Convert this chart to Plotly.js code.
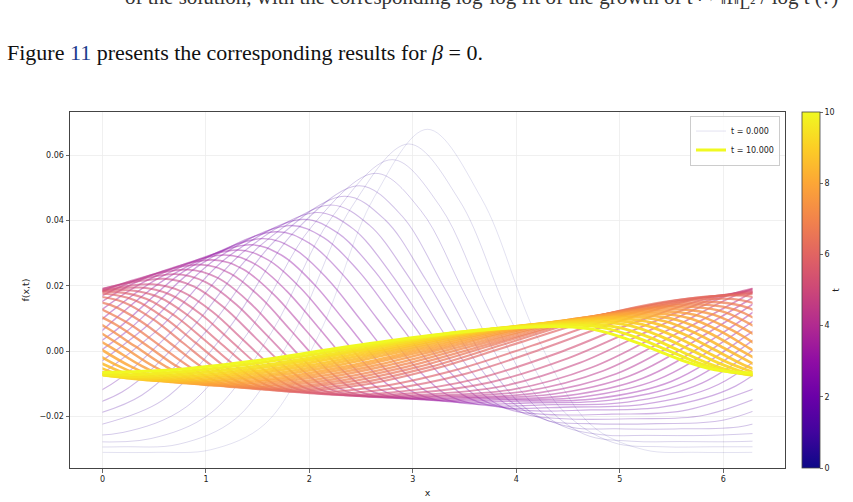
<!DOCTYPE html>
<html><head><meta charset="utf-8">
<script src="https://cdn.plot.ly/plotly-3.0.1.min.js"></script>
<style>
html,body{margin:0;padding:0;background:#fff;width:853px;height:502px;overflow:hidden;}
#chart{position:absolute;left:0;top:0;width:853px;height:502px;}
.txt{position:absolute;font-family:"Liberation Serif","DejaVu Serif",serif;color:#111;white-space:nowrap;}
#cut{left:125px;top:-15px;font-size:21px;color:#333;}
#cap{left:7px;top:40px;font-size:22px;}
</style></head>
<body>
<div id="chart"></div>
<div class="txt" id="cut">of the solution, with the corresponding log-log fit of the growth of t ↦ ‖f‖<sub>L²</sub> / log t (?)</div>
<div class="txt" id="cap">Figure <span style="color:#1d3c8c">11</span> presents the corresponding results for <i>β</i> = 0.</div>
<script>
// ---- data ----
const times = [0,0.25,0.5,0.75,1,1.25,1.5,1.75,2,2.25,2.5,2.75,3,3.25,3.5,3.75,4,4.25,4.5,4.75,5,5.25,5.5,5.75,6,6.25,6.5,6.75,7,7.25,7.5,7.75,8,8.25,8.5,8.75,9,9.25,9.5,9.75,10];
const xs = [
[0,0.524,1.047,1.571,2.094,2.618,3.142,3.665,4.189,4.712,5.236,5.760,6.283],
[-0.373,0.183,0.738,1.294,1.849,2.405,2.960,3.452,3.943,4.435,4.927,5.418,5.910,6.466],
[-0.119,0.465,1.049,1.633,2.216,2.800,3.263,3.727,4.190,4.653,5.117,5.580,6.164,6.748],
[-0.412,0.198,0.809,1.419,2.030,2.640,3.077,3.513,3.950,4.387,4.823,5.260,5.871,6.481],
[-0.055,0.579,1.213,1.847,2.480,2.893,3.307,3.720,4.133,4.547,4.960,5.594,6.228,6.862],
[-0.275,0.379,1.033,1.686,2.340,2.733,3.127,3.520,3.913,4.307,4.700,5.354,6.008,6.662],
[-0.482,0.189,0.859,1.530,2.200,2.577,2.953,3.330,3.707,4.083,4.460,5.131,5.801,6.472],
[-0.677,0.009,0.694,1.380,2.065,2.427,2.788,3.150,3.512,3.873,4.235,4.921,5.606,6.292],
[-0.164,0.535,1.233,1.932,2.280,2.629,2.977,3.325,3.674,4.022,4.721,5.420,6.119,6.818],
[-0.330,0.380,1.091,1.801,2.138,2.474,2.811,3.148,3.484,3.821,4.532,5.242,5.953,6.663],
[-0.489,0.231,0.952,1.672,1.999,2.325,2.652,2.979,3.305,3.632,4.353,5.073,5.794,6.514],
[-0.641,0.088,0.816,1.545,1.863,2.182,2.500,2.818,3.137,3.455,4.184,4.913,5.642,6.371],
[-0.051,0.685,1.420,1.732,2.043,2.355,2.667,2.978,3.290,4.026,4.761,5.497,6.232,6.968],
[-0.184,0.557,1.297,1.604,1.910,2.217,2.524,2.830,3.137,3.878,4.618,5.359,6.099,6.840],
[-0.315,0.431,1.176,1.478,1.779,2.081,2.383,2.684,2.986,3.732,4.477,5.223,5.968,6.714],
[-0.440,0.308,1.057,1.355,1.654,1.952,2.250,2.549,2.847,3.596,4.345,5.094,5.843,6.591],
[-0.564,0.188,0.940,1.235,1.530,1.825,2.120,2.415,2.710,3.462,4.214,4.967,5.719,6.471],
[-0.686,0.070,0.825,1.117,1.408,1.700,1.992,2.283,2.575,3.331,4.086,4.842,5.597,6.353],
[-0.045,0.710,1.002,1.293,1.585,1.877,2.168,2.460,3.216,3.971,4.727,5.482,6.238,6.993],
[-0.160,0.595,0.887,1.178,1.470,1.762,2.053,2.345,3.101,3.856,4.612,5.367,6.123,6.878],
[-0.275,0.480,0.772,1.063,1.355,1.647,1.938,2.230,2.986,3.741,4.497,5.252,6.008,6.763],
[-0.390,0.365,0.657,0.948,1.240,1.532,1.823,2.115,2.871,3.626,4.382,5.137,5.893,6.648],
[-0.505,0.250,0.542,0.833,1.125,1.417,1.708,2.000,2.756,3.511,4.267,5.022,5.778,6.533],
[-0.620,0.135,0.427,0.718,1.010,1.302,1.593,1.885,2.641,3.396,4.152,4.907,5.663,6.418],
[-0.735,0.020,0.312,0.603,0.895,1.187,1.478,1.770,2.526,3.281,4.037,4.792,5.548,6.303],
[-0.095,0.197,0.488,0.780,1.072,1.363,1.655,2.411,3.166,3.922,4.677,5.433,6.188,6.480],
[-0.210,0.082,0.373,0.665,0.957,1.248,1.540,2.296,3.051,3.807,4.562,5.318,6.073,6.365],
[-0.033,0.258,0.550,0.842,1.133,1.425,2.181,2.936,3.692,4.447,5.203,5.958,6.250,6.541],
[-0.148,0.143,0.435,0.727,1.018,1.310,2.066,2.821,3.577,4.332,5.088,5.843,6.135,6.426],
[-0.263,0.028,0.320,0.612,0.903,1.195,1.951,2.706,3.462,4.217,4.973,5.728,6.020,6.311],
[-0.087,0.205,0.497,0.788,1.080,1.836,2.591,3.347,4.102,4.858,5.613,5.905,6.196,6.488],
[-0.202,0.090,0.382,0.673,0.965,1.721,2.476,3.232,3.987,4.743,5.498,5.790,6.081,6.373],
[-0.025,0.267,0.558,0.850,1.606,2.361,3.117,3.872,4.628,5.383,5.675,5.966,6.258,6.550],
[-0.140,0.152,0.443,0.735,1.491,2.246,3.002,3.757,4.513,5.268,5.560,5.851,6.143,6.435],
[-0.255,0.037,0.328,0.620,1.376,2.131,2.887,3.642,4.398,5.153,5.445,5.736,6.028,6.320],
[-0.078,0.213,0.505,1.261,2.016,2.772,3.527,4.283,5.038,5.330,5.621,5.913,6.205,6.496],
[-0.193,0.098,0.390,1.146,1.901,2.657,3.412,4.168,4.923,5.215,5.506,5.798,6.090,6.381],
[-0.017,0.275,1.031,1.786,2.542,3.297,4.053,4.808,5.100,5.391,5.683,5.975,6.266,6.558],
[-0.132,0.160,0.916,1.671,2.427,3.182,3.938,4.693,4.985,5.276,5.568,5.860,6.151,6.443],
[-0.247,0.045,0.801,1.556,2.312,3.067,3.823,4.578,4.870,5.161,5.453,5.745,6.036,6.328],
[-0.070,0.686,1.441,2.197,2.952,3.708,4.463,4.755,5.046,5.338,5.630,5.921,6.213,6.969]
];
const ys = [
[-0.0310,-0.0310,-0.0302,-0.0223,0.0052,0.0467,0.0680,0.0467,0.0052,-0.0223,-0.0302,-0.0310,-0.0310],
[-0.0293,-0.0293,-0.0285,-0.0205,0.0056,0.0440,0.0635,0.0461,0.0099,-0.0177,-0.0279,-0.0293,-0.0293,-0.0293],
[-0.0277,-0.0268,-0.0189,0.0057,0.0410,0.0587,0.0444,0.0132,-0.0135,-0.0254,-0.0276,-0.0277,-0.0277,-0.0268],
[-0.0258,-0.0249,-0.0171,0.0062,0.0385,0.0545,0.0431,0.0168,-0.0083,-0.0220,-0.0256,-0.0258,-0.0258,-0.0249],
[-0.0228,-0.0151,0.0067,0.0363,0.0507,0.0415,0.0193,-0.0038,-0.0185,-0.0234,-0.0238,-0.0238,-0.0228,-0.0151],
[-0.0211,-0.0135,0.0072,0.0344,0.0475,0.0402,0.0218,0.0008,-0.0146,-0.0213,-0.0222,-0.0222,-0.0211,-0.0135],
[-0.0197,-0.0125,0.0069,0.0325,0.0448,0.0387,0.0231,0.0041,-0.0113,-0.0192,-0.0207,-0.0207,-0.0197,-0.0125],
[-0.0183,-0.0116,0.0068,0.0309,0.0425,0.0374,0.0238,0.0067,-0.0084,-0.0172,-0.0193,-0.0193,-0.0183,-0.0116],
[-0.0107,0.0066,0.0294,0.0404,0.0361,0.0246,0.0092,-0.0053,-0.0150,-0.0180,-0.0180,-0.0171,-0.0107,0.0066],
[-0.0102,0.0064,0.0281,0.0385,0.0348,0.0246,0.0107,-0.0032,-0.0134,-0.0171,-0.0171,-0.0162,-0.0102,0.0064],
[-0.0098,0.0060,0.0267,0.0366,0.0331,0.0234,0.0101,-0.0032,-0.0129,-0.0164,-0.0164,-0.0156,-0.0098,0.0060],
[-0.0095,0.0054,0.0251,0.0345,0.0311,0.0219,0.0094,-0.0032,-0.0124,-0.0158,-0.0158,-0.0150,-0.0095,0.0054],
[0.0049,0.0236,0.0326,0.0294,0.0206,0.0087,-0.0033,-0.0121,-0.0153,-0.0153,-0.0146,-0.0093,0.0049,0.0236],
[0.0050,0.0226,0.0310,0.0279,0.0195,0.0081,-0.0034,-0.0118,-0.0149,-0.0149,-0.0141,-0.0088,0.0050,0.0226],
[0.0051,0.0217,0.0295,0.0266,0.0185,0.0075,-0.0036,-0.0117,-0.0146,-0.0146,-0.0137,-0.0083,0.0051,0.0217],
[0.0054,0.0209,0.0280,0.0252,0.0174,0.0069,-0.0037,-0.0115,-0.0143,-0.0143,-0.0132,-0.0076,0.0054,0.0209],
[0.0057,0.0200,0.0265,0.0238,0.0164,0.0062,-0.0040,-0.0114,-0.0141,-0.0141,-0.0128,-0.0069,0.0057,0.0200],
[0.0062,0.0193,0.0250,0.0224,0.0153,0.0056,-0.0042,-0.0113,-0.0139,-0.0138,-0.0123,-0.0060,0.0062,0.0193],
[0.0186,0.0236,0.0211,0.0143,0.0050,-0.0044,-0.0112,-0.0137,-0.0136,-0.0117,-0.0050,0.0067,0.0186,0.0236],
[0.0179,0.0222,0.0198,0.0133,0.0044,-0.0046,-0.0111,-0.0135,-0.0133,-0.0108,-0.0036,0.0075,0.0179,0.0222],
[0.0170,0.0205,0.0182,0.0121,0.0036,-0.0049,-0.0110,-0.0133,-0.0129,-0.0096,-0.0022,0.0080,0.0170,0.0205],
[0.0165,0.0195,0.0173,0.0114,0.0032,-0.0050,-0.0109,-0.0131,-0.0124,-0.0084,-0.0008,0.0087,0.0165,0.0195],
[0.0162,0.0187,0.0166,0.0108,0.0029,-0.0050,-0.0108,-0.0129,-0.0117,-0.0069,0.0009,0.0095,0.0162,0.0187],
[0.0158,0.0181,0.0160,0.0104,0.0028,-0.0049,-0.0105,-0.0126,-0.0110,-0.0059,0.0017,0.0098,0.0158,0.0181],
[0.0156,0.0176,0.0156,0.0101,0.0027,-0.0048,-0.0103,-0.0123,-0.0103,-0.0048,0.0027,0.0101,0.0156,0.0176],
[0.0170,0.0151,0.0098,0.0025,-0.0048,-0.0101,-0.0120,-0.0101,-0.0048,0.0025,0.0098,0.0151,0.0170,0.0151],
[0.0160,0.0141,0.0091,0.0022,-0.0048,-0.0098,-0.0117,-0.0098,-0.0048,0.0022,0.0091,0.0141,0.0160,0.0141],
[0.0132,0.0084,0.0018,-0.0048,-0.0096,-0.0114,-0.0096,-0.0048,0.0018,0.0084,0.0132,0.0150,0.0132,0.0084],
[0.0125,0.0079,0.0016,-0.0048,-0.0094,-0.0111,-0.0094,-0.0048,0.0016,0.0079,0.0125,0.0142,0.0125,0.0079],
[0.0119,0.0074,0.0014,-0.0047,-0.0092,-0.0108,-0.0092,-0.0047,0.0014,0.0074,0.0119,0.0135,0.0119,0.0074],
[0.0070,0.0012,-0.0047,-0.0089,-0.0105,-0.0089,-0.0047,0.0012,0.0070,0.0112,0.0128,0.0112,0.0070,0.0012],
[0.0065,0.0010,-0.0046,-0.0087,-0.0102,-0.0087,-0.0046,0.0010,0.0065,0.0106,0.0121,0.0106,0.0065,0.0010],
[0.0008,-0.0046,-0.0085,-0.0099,-0.0085,-0.0046,0.0008,0.0062,0.0101,0.0115,0.0101,0.0062,0.0008,-0.0046],
[0.0007,-0.0045,-0.0082,-0.0096,-0.0082,-0.0045,0.0007,0.0058,0.0095,0.0109,0.0095,0.0058,0.0007,-0.0045],
[0.0006,-0.0044,-0.0080,-0.0093,-0.0080,-0.0044,0.0006,0.0055,0.0091,0.0104,0.0091,0.0055,0.0006,-0.0044],
[-0.0043,-0.0077,-0.0090,-0.0077,-0.0043,0.0005,0.0052,0.0086,0.0099,0.0086,0.0052,0.0005,-0.0043,-0.0077],
[-0.0041,-0.0074,-0.0086,-0.0074,-0.0041,0.0004,0.0049,0.0082,0.0094,0.0082,0.0049,0.0004,-0.0041,-0.0074],
[-0.0071,-0.0082,-0.0071,-0.0039,0.0004,0.0046,0.0078,0.0089,0.0078,0.0046,0.0004,-0.0039,-0.0071,-0.0082],
[-0.0067,-0.0078,-0.0067,-0.0038,0.0003,0.0044,0.0073,0.0084,0.0073,0.0044,0.0003,-0.0038,-0.0067,-0.0078],
[-0.0062,-0.0072,-0.0062,-0.0034,0.0004,0.0042,0.0070,0.0080,0.0070,0.0042,0.0004,-0.0034,-0.0062,-0.0072],
[-0.0066,-0.0057,-0.0031,0.0005,0.0040,0.0066,0.0075,0.0066,0.0040,0.0005,-0.0031,-0.0057,-0.0066,-0.0057]
];
const xTicks = [0,1,2,3,4,5,6];
const yTicks = [-0.02,0,0.02,0.04,0.06];
const cbTicks = [0,2,4,6,8,10];
const tMax = 10;

// ---- style ----
const plasmaStops = [[0,'#0d0887'],[0.1,'#41049d'],[0.2,'#6a00a8'],[0.3,'#8f0da4'],[0.4,'#b12a90'],[0.5,'#cc4778'],[0.6,'#e16462'],[0.7,'#f2844b'],[0.8,'#fca636'],[0.9,'#fcce25'],[1,'#f0f921']];
function hexRgb(h){return [parseInt(h.slice(1,3),16),parseInt(h.slice(3,5),16),parseInt(h.slice(5,7),16)];}
function plasma(f,a){
  for(let i=0;i<plasmaStops.length-1;i++){
    const [f0,c0]=plasmaStops[i],[f1,c1]=plasmaStops[i+1];
    if(f<=f1||i===plasmaStops.length-2){
      const u=Math.max(0,Math.min(1,(f-f0)/(f1-f0)));
      const a0=hexRgb(c0),a1=hexRgb(c1);
      const r=a0.map((v,j)=>Math.round(v+(a1[j]-v)*u));
      return 'rgba('+r[0]+','+r[1]+','+r[2]+','+a+')';
    }
  }
}
const traces = times.map((t,k)=>{
  const f=t/tMax;
  return {type:'scatter',mode:'lines',x:xs[k],y:ys[k],xaxis:'x2',yaxis:'y2',
    line:{color:plasma(f,0.15+0.85*f),width:0.8+2.2*f,shape:'spline',smoothing:1},
    name:'t = '+t.toFixed(3),showlegend:(k===0||k===times.length-1),hoverinfo:'skip'};
});
traces.push({type:'scatter',mode:'markers',x:[0],y:[1],showlegend:false,hoverinfo:'skip',
  marker:{size:1,opacity:0,color:[0],cmin:0,cmax:tMax,
    colorscale:plasmaStops,showscale:true,
    colorbar:{x:1.0238,xanchor:'left',xpad:0,y:0.5,yanchor:'middle',ypad:0,
      len:356,lenmode:'pixels',thickness:18,thicknessmode:'pixels',
      outlinewidth:0.8,outlinecolor:'#444',tickvals:cbTicks,ticks:'outside',ticklen:3,tickwidth:0.8,tickcolor:'#444',
      tickfont:{size:8,color:'#222'},title:{text:'t',side:'right',font:{size:9,color:'#222'}}}}});

const axisCommon = {showline:true,mirror:true,linecolor:'#444',linewidth:1,ticks:'outside',ticklen:3.5,tickwidth:0.8,tickcolor:'#444',
  showgrid:true,gridcolor:'#ececec',gridwidth:0.8,zeroline:false,tickfont:{size:8,color:'#222'}};
const layout = {
  width:853,height:502,margin:{l:70,r:68,t:112,b:34,pad:0},
  paper_bgcolor:'rgba(0,0,0,0)',plot_bgcolor:'rgba(0,0,0,0)',
  font:{family:'DejaVu Sans, sans-serif',size:9,color:'#222'},
  xaxis:Object.assign({},axisCommon,{range:[-0.3142,6.5973],tickvals:xTicks,ticktext:xTicks.map(String),
    title:{text:'x',font:{size:9.5},standoff:6}}),
  yaxis:Object.assign({},axisCommon,{range:[-0.0358,0.0733],tickvals:yTicks,tickformat:'.2f',
    title:{text:'f(x,t)',font:{size:9.5},standoff:8}}),
  xaxis2:{domain:[0.04546,0.95455],range:[0,6.2832],anchor:'y2',visible:false},
  yaxis2:{domain:[0,1],range:[-0.0358,0.0733],anchor:'x2',visible:false},
  showlegend:true,
  legend:{x:0.993,y:0.99,xanchor:'right',yanchor:'top',bgcolor:'rgba(255,255,255,0.85)',bordercolor:'#cccccc',borderwidth:1,
    font:{size:8,color:'#222'},itemwidth:30,tracegroupgap:0}
};
Plotly.newPlot('chart',traces,layout,{staticPlot:true,displayModeBar:false});
</script>
</body></html>
